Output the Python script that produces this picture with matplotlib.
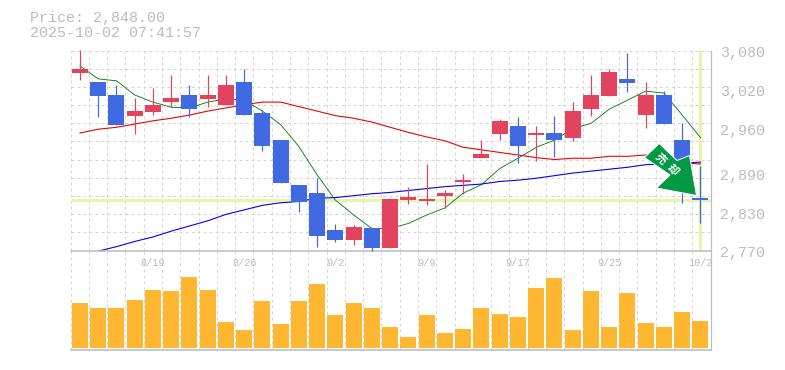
import matplotlib
matplotlib.use("Agg")
import matplotlib.pyplot as plt
from matplotlib.patches import Polygon
from matplotlib.transforms import Affine2D
import numpy as np

W, H = 785, 370

opens  = [3045,3031,3011,2978,2985,3000,3011,3005,2996,3031,2983,2941,2872,2859,2802,2786,2805,2774,2848,2847,2854,2876,2913,2951,2963,2949,2952,2944,2989,3010,3036,2980,3011,2941,2851]
highs  = [3081,3031,3027,3006,3022,3042,3027,3042,3042,3051,2988,2941,2872,2882,2811,2810,2805,2851,2868,2904,2864,2889,2941,2974,2977,2963,2978,3000,3042,3051,3076,3031,3017,2968,2901]
lows   = [3034,2977,2964,2951,2980,2993,2977,2992,2996,2980,2924,2875,2830,2775,2783,2778,2769,2774,2842,2840,2836,2858,2913,2941,2906,2909,2915,2940,2978,3009,3016,2960,2966,2844,2813]
closes = [3051,3010,2965,2986,2996,3006,2989,3011,3027,2980,2932,2875,2845,2792,2786,2806,2774,2850,2853,2850,2859,2879,2920,2971,2932,2952,2941,2986,3011,3047,3030,3011,2966,2905,2848]
volumes = [45,40,40,48,58,57,71,58,26,18,47,24,47,64,33,45,40,21,11,33,15,19,40,34,31,60,70,18,57,21,55,25,21,36,27]
ma_short = [3056,3036,3033,3011,3000,2992,2991,3000,3005,3003,2986,2965,2931,2887,2848,2825,2804,2804,2812,2825,2836,2859,2872,2897,2913,2930,2941,2959,2967,2989,3003,3017,3014,2980,2945]
ma_mid = [2952,2958,2961,2966,2971,2975,2980,2986,2991,2996,3000,3000,2993,2986,2979,2975,2969,2961,2953,2946,2940,2930,2926,2922,2918,2914,2911,2913,2913,2916,2916,2918,2914,2906,2904]
ma_long = [2769,2776,2784,2791,2800,2808,2816,2826,2833,2840,2844,2846,2851,2852,2855,2858,2860,2863,2866,2869,2871,2873,2877,2879,2882,2886,2890,2893,2896,2899,2903,2904,2905,2907]
date_labels = ["8/19","8/26","9/2","9/9","9/17","9/25","10/2"]
date_index = [4,9,14,19,24,29,34]
price_ticks = [3080,3020,2960,2890,2830,2770]
price_tick_labels = ["3,080","3,020","2,960","2,890","2,830","2,770"]
last_price = 2848.0
title_lines = ["Price: 2,848.00", "2025-10-02 07:41:57"]
signal_text = ["売", "却"]

RED, BLUE, ORANGE = "#e2445f", "#4169e1", "#ffb732"
GRID, FRAME, TXT = "#d4d4d4", "#bdbdbd", "#bcbcbc"
HILITE = "#e6f5a8"
MONO = "Liberation Mono"
px = 0.72

fig = plt.figure(figsize=(W/100, H/100), dpi=100, facecolor="white")
def rect(l, t, r, b):
    return [l/W, 1-b/H, (r-l)/W, (b-t)/H]
ax = fig.add_axes(rect(70.5, 50.5, 710.5, 250.5))
axv = fig.add_axes(rect(70.5, 250.5, 710.5, 349.5))

XLIM = (-0.52, 34.55)
n = len(closes)
xs = np.arange(n)
grid_x = np.linspace(XLIM[0], XLIM[1], 36)

for a in (ax, axv):
    a.set_xlim(*XLIM)
    a.set_xticks(grid_x)
    a.tick_params(length=0, labelbottom=False, labelleft=False)
    a.grid(False)
    a.set_facecolor("none")
    a.set_axisbelow(True)
    a.xaxis.grid(True, color=GRID, lw=1*px, ls=(0, (3, 3)))
    for s in a.spines.values():
        s.set_visible(False)
    a.spines["right"].set(visible=True, color=FRAME, lw=1.2*px)
    a.spines["bottom"].set(visible=True, color=FRAME, lw=1.6*px)

ax.set_ylim(2770, 3080)
ax.set_yticks(np.linspace(2770, 3080, 12))
ax.yaxis.grid(True, color=GRID, lw=1*px, ls=(0, (3, 3)))

# highlight of the latest price and date
ax.axhline(last_price, color=HILITE, lw=3*px, zorder=1)
ax.axvline(xs[-1], color=HILITE, lw=3*px, ymin=0.01, ymax=0.995, zorder=1)

ax.plot(xs, ma_short, color="#007a00", lw=0.85*px, zorder=2)
ax.plot(xs, ma_mid, color="#f00000", lw=1.1*px, zorder=2)
ax.plot(xs[1:], ma_long, color="#0000f0", lw=1.1*px, zorder=2)

colors = [RED if c >= o else BLUE for o, c in zip(opens, closes)]
ax.vlines(xs, lows, highs, colors=colors, lw=1.2*px, zorder=3, clip_on=False)
bottoms = [min(o, c) for o, c in zip(opens, closes)]
heights = [abs(c - o) for o, c in zip(opens, closes)]
ax.bar(xs, heights, bottom=bottoms, width=0.877, color=colors, zorder=4, lw=0)

axv.set_ylim(-1.5, 97.5)
axv.set_yticks([])
axv.bar(xs, volumes, width=0.877, color=ORANGE, zorder=3, lw=0)

# text
for lab, i in zip(date_labels, date_index):
    axv.annotate(lab, (i, 1), xycoords=("data", "axes fraction"), xytext=(0, -12*px),
                 textcoords="offset points", ha="center", va="center",
                 family=MONO, fontsize=10.2*px, color=TXT, zorder=5)
for v, lab in zip(price_ticks, price_tick_labels):
    ax.annotate(lab, (1, v), xycoords=("axes fraction", "data"), xytext=(9.5*px, -2.8*px),
                textcoords="offset points", ha="left", va="center",
                family=MONO, fontsize=15*px, color=TXT, annotation_clip=False)
for line, y in zip(title_lines, (18, 33)):
    fig.text(30/W, 1-y/H, line, family=MONO, fontsize=15*px, color=TXT, ha="left", va="center")

# signal arrow, placed in pixels of the picture
pix = Affine2D().scale(1, -1).translate(0, H)
arrow_shape = [(659.3,143.5),(677,160.5),(689.5,155.5),(696.5,195.5),(656.5,188),(670,175),(644.5,157.5)]
fig.add_artist(Polygon(arrow_shape, closed=True, facecolor="#009944", edgecolor="white",
                       lw=1.0*px, transform=pix, zorder=10))
for ch, (cx, cy) in zip(signal_text, [(661, 158.5), (672.5, 170)]):
    fig.text(cx/W, 1-cy/H, ch, family="Noto Sans CJK JP", weight="bold",
             fontsize=11*px, color="white", rotation=-45, ha="center", va="center", zorder=11)

fig.savefig("out.png", dpi=100)
